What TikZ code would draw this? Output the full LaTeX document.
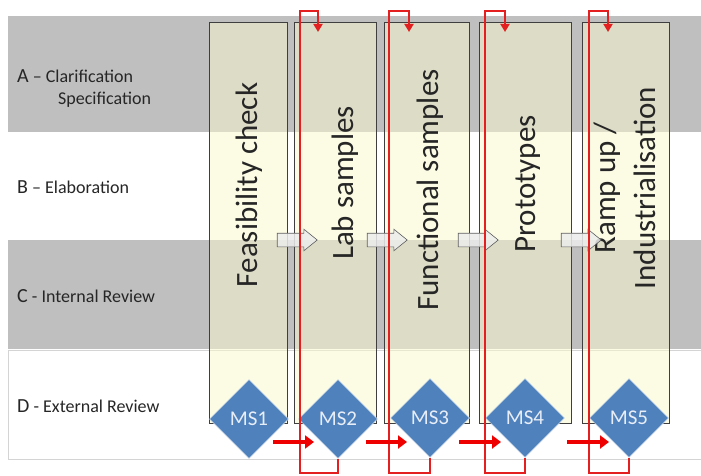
\documentclass[tikz,border=0pt]{standalone}
\usepackage{fontspec}
\setmainfont{Carlito}
\usetikzlibrary{shapes.geometric,shapes.arrows,arrows.meta}
\definecolor{bandgray}{HTML}{BFBFBF}
\definecolor{bandline}{HTML}{D4D4D4}
\definecolor{colfill}{RGB}{251,250,205}
\definecolor{colline}{HTML}{3F3F3F}
\definecolor{msblue}{HTML}{4F81BD}
\definecolor{mstext}{HTML}{E8EEF7}
\definecolor{loopred}{HTML}{E3201F}
\definecolor{bigred}{HTML}{EE0000}
\definecolor{txt}{HTML}{262626}
\definecolor{hollowfill}{HTML}{ECECEC}
\newcommand\rowfontA{\fontsize{20}{22}\selectfont}
\begin{document}
\begin{tikzpicture}[x=1pt,y=-1pt,
 band/.style={fill=bandgray,draw=none},
 phase/.style={fill=colfill,fill opacity=0.5,draw=colline,line width=0.8pt},
 phasetext/.style={rotate=90,anchor=base,font=\fontsize{31}{40}\selectfont,text=txt,inner sep=0pt},
 rowlabel/.style={anchor=base west,font=\fontsize{18}{22}\selectfont,text=txt,inner sep=0pt},
 ms/.style={diamond,fill=msblue,draw=white!75!msblue,line width=0.5pt,minimum width=79pt,minimum height=79pt,inner sep=0pt,text=mstext,font=\fontsize{21}{22}\selectfont},
 hollow/.style={single arrow,draw=gray!75!black,fill=hollowfill,fill opacity=0.85,line width=0.6pt,minimum height=40pt,minimum width=21pt,single arrow head extend=4pt,single arrow tip angle=78,inner xsep=0pt,inner ysep=6.5pt},
 loop/.style={draw=loopred,line width=1.8pt,-{Triangle[width=9pt,length=8pt]}},
 bigarrow/.style={draw=bigred,line width=4.5pt,-{Triangle[width=13pt,length=9pt]}}
]
\useasboundingbox (0,0) rectangle (701,476);
\fill[white] (0,0) rectangle (701,476);
% bands
\path[band] (8,16) rectangle (701,132);
\path[band] (8,240) rectangle (701,349);
\draw[bandline,fill=white,line width=0.8pt] (8,350) rectangle (702,459);
% row labels
\node[rowlabel] (la) at (17,83) {{\rowfontA A} – Clarification};
\node[rowlabel] (la2) at (58,105) {Specification};
\node[rowlabel] (lb) at (17,193) {{\rowfontA B} – Elaboration};
\node[rowlabel] (lc) at (17,302) {{\rowfontA C} - Internal Review};
\node[rowlabel] (ld) at (17,412) {{\rowfontA D} - External Review};
% phase columns
\path[phase] (209,22) rectangle (287,423);
\path[phase] (294,22) rectangle (376,423);
\path[phase] (384,22) rectangle (469,423);
\path[phase] (479,22) rectangle (571,423);
\path[phase] (582,22) rectangle (669,423);
% column texts
\node[phasetext] (p1) at (257,185) {Feasibility check};
\node[phasetext] (p2) at (353,183) {Lab samples};
\node[phasetext] (p3) at (438,190) {Functional samples};
\node[phasetext] (p4) at (535,184) {Prototypes};
\node[phasetext,anchor=center,align=center] (p5) at (625,188) {Ramp up /\\Industrialisation};
% hollow arrows between phases
\node[hollow] (h1) at (293,240) {};
\node[hollow] (h2) at (383,240) {};
\node[hollow] (h3) at (474,240) {};
\node[hollow] (h4) at (577,240) {};
% milestones
\node[ms] (m1) at (249,419) {MS1};
\node[ms] (m2) at (338,419) {MS2};
\node[ms] (m3) at (430,418) {MS3};
\node[ms] (m4) at (525,418) {MS4};
\node[ms] (m5) at (629,418) {MS5};
% red loops
\coordinate (toprow) at (0,11);
\coordinate (v2) at (300,473);
\coordinate (v3) at (389,473);
\coordinate (v4) at (485,473);
\coordinate (v5) at (589,473);
\coordinate (t2) at (318,32);
\coordinate (t3) at (409,32);
\coordinate (t4) at (505,32);
\coordinate (t5) at (608,32);
\foreach \i in {2,3,4,5}{
  \draw[loop] (m\i.south) |- (v\i) -- (v\i |- toprow) -| (t\i);
}
% thick red arrows
\coordinate (s2) at (273,442); \coordinate (e2) at (314,442);
\coordinate (s3) at (366,442); \coordinate (e3) at (407,442);
\coordinate (s4) at (459,442); \coordinate (e4) at (501,442);
\coordinate (s5) at (567,442); \coordinate (e5) at (609,442);
\foreach \i in {2,3,4,5}{
  \draw[bigarrow] (s\i) -- (e\i);
}
\end{tikzpicture}
\end{document}
